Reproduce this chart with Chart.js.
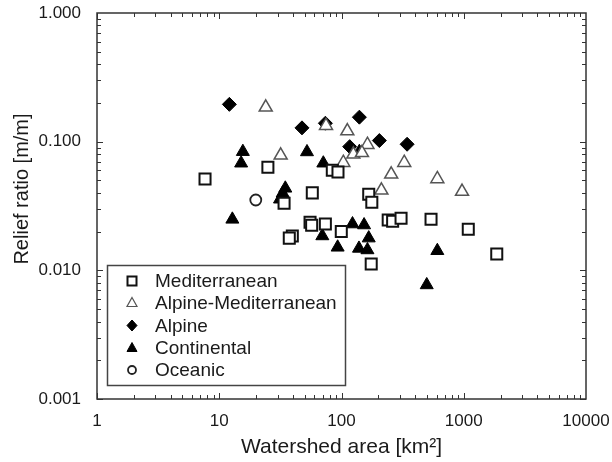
<!DOCTYPE html>
<html>
<head>
<meta charset="utf-8">
<title>Relief ratio vs watershed area</title>
<script src="https://cdn.jsdelivr.net/npm/chart.js@4.4.1/dist/chart.umd.min.js"></script>
<style>
  body { margin: 0; background: #fff; }
  #wrap { width: 612px; height: 462px; }
</style>
</head>
<body>
<div id="wrap"><canvas id="chart" width="612" height="462"></canvas></div>
<script>
// Werte: Fläche in km2, Reliefverhältnis in m/m
const medArea   = [7.65, 25.0, 84.1, 93.6, 57.7, 33.9, 167, 177, 241, 262, 307, 540, 1089, 1862, 55.3, 57, 73.8, 39.6, 37.4, 99.6, 175];
const medRelief = [0.0513, 0.0632, 0.060, 0.058, 0.040, 0.0332, 0.039, 0.0338, 0.0246, 0.0241, 0.0254, 0.0249, 0.0209, 0.0134, 0.0236, 0.0224, 0.0229, 0.0185, 0.0178, 0.020, 0.0112];

const alpMedArea   = [24.0, 74.7, 111.6, 31.8, 103.5, 163, 125, 147, 326, 255, 608, 968, 212];
const alpMedRelief = [0.185, 0.133, 0.121, 0.0784, 0.0687, 0.0948, 0.0798, 0.082, 0.0687, 0.0558, 0.0513, 0.0409, 0.0419];

const alpArea   = [12.1, 47.5, 73.8, 140, 116.7, 204, 344];
const alpRelief = [0.195, 0.128, 0.139, 0.155, 0.0915, 0.102, 0.0955];

const contArea   = [15.6, 15.1, 52.2, 71, 140, 34.7, 33, 31.4, 12.8, 69.7, 93, 123, 153, 167, 139, 163, 608, 498];
const contRelief = [0.0836, 0.068, 0.0832, 0.068, 0.0836, 0.0434, 0.0397, 0.0357, 0.0249, 0.0185, 0.0151, 0.0229, 0.0225, 0.0178, 0.0148, 0.0144, 0.0142, 0.0077];

const oceArea   = [19.9];
const oceRelief = [0.0352];

const seriesNames = ['Mediterranean', 'Alpine-Mediterranean', 'Alpine', 'Continental', 'Oceanic'];
const xTicks = [1, 10, 100, 1000, 10000];
const yTicks = [0.001, 0.01, 0.1, 1];
const yTitle = 'Relief ratio [m/m]';

const FONT = 'Arial, "Liberation Sans", sans-serif';
const INK = '#1a1a1a';

const toPoints = (xs, ys) => xs.map((x, i) => ({ x: x, y: ys[i] }));

// Rahmen und nach innen zeigende Ticks auf allen vier Seiten
const frameTicks = {
    id: 'frameTicks',
    beforeDatasetsDraw(chart) {
        const { ctx, chartArea: a, scales } = chart;
        ctx.save();
        ctx.strokeStyle = '#333';
        ctx.lineWidth = 1;
        const decades = (lo, hi) => {
            const out = [];
            for (let d = lo; d < hi * 0.999; d *= 10) {
                for (let k = 1; k <= 9; k++) out.push({ v: d * k, major: k === 1 });
            }
            return out;
        };
        ctx.beginPath();
        decades(1, 10000).forEach(t => {
            const px = Math.round(scales.x.getPixelForValue(t.v)) + 0.5;
            const len = t.major ? 6 : 4;
            ctx.moveTo(px, a.bottom); ctx.lineTo(px, a.bottom - len);
            ctx.moveTo(px, a.top); ctx.lineTo(px, a.top + len);
        });
        decades(0.001, 1).forEach(t => {
            const py = Math.round(scales.y.getPixelForValue(t.v)) + 0.5;
            const len = t.major ? 6 : 4;
            ctx.moveTo(a.left, py); ctx.lineTo(a.left + len, py);
            ctx.moveTo(a.right, py); ctx.lineTo(a.right - len, py);
        });
        ctx.stroke();
        ctx.lineWidth = 1.5;
        ctx.strokeRect(a.left, a.top, a.right - a.left, a.bottom - a.top);

        // y-Achsentitel sitzt im Original etwas über der Mitte
        ctx.translate(22, 189);
        ctx.rotate(-Math.PI / 2);
        ctx.fillStyle = INK;
        ctx.font = '20px ' + FONT;
        ctx.textAlign = 'center';
        ctx.textBaseline = 'middle';
        ctx.fillText(yTitle, 0, 0);
        ctx.restore();
    }
};

// kleine Legendensymbole
const drawIcon = (ctx, style, x, y, fill, stroke, lw) => {
    ctx.beginPath();
    if (style === 'rect') {
        ctx.rect(x - 4.5, y - 4.5, 9, 9);
    } else if (style === 'triangle') {
        ctx.moveTo(x, y - 5.5); ctx.lineTo(x + 5, y + 3.5); ctx.lineTo(x - 5, y + 3.5); ctx.closePath();
    } else if (style === 'rectRot') {
        ctx.moveTo(x, y - 5.5); ctx.lineTo(x + 5, y); ctx.lineTo(x, y + 5.5); ctx.lineTo(x - 5, y); ctx.closePath();
    } else {
        ctx.arc(x, y, 4, 0, Math.PI * 2);
    }
    ctx.fillStyle = fill;
    ctx.fill();
    ctx.lineWidth = lw;
    ctx.strokeStyle = stroke;
    ctx.stroke();
};

const boxLegend = {
    id: 'boxLegend',
    afterDraw(chart) {
        const ctx = chart.ctx;
        ctx.save();
        ctx.fillStyle = '#fff';
        ctx.fillRect(107.5, 265.5, 238, 120);
        ctx.strokeStyle = '#444';
        ctx.lineWidth = 1.5;
        ctx.strokeRect(107.5, 265.5, 238, 120);
        const rows = [281, 303, 325.5, 348, 370];
        chart.data.datasets.forEach((ds, i) => {
            drawIcon(ctx, ds.pointStyle, 132, rows[i], ds.legendFill, ds.borderColor, ds.legendLine);
            ctx.fillStyle = INK;
            ctx.font = '19px ' + FONT;
            ctx.textBaseline = 'middle';
            ctx.textAlign = 'left';
            ctx.fillText(ds.label, 155, rows[i] + 1);
        });
        ctx.restore();
    }
};

const ctx = document.getElementById('chart').getContext('2d');
new Chart(ctx, {
    type: 'scatter',
    data: {
        datasets: [
            {
                label: seriesNames[0],
                data: toPoints(medArea, medRelief),
                pointStyle: 'rect', pointRadius: 7.8,
                backgroundColor: '#fff', borderColor: '#111', borderWidth: 2,
                legendFill: '#fff', legendLine: 2
            },
            {
                label: seriesNames[1],
                data: toPoints(alpMedArea, alpMedRelief),
                pointStyle: 'triangle', pointRadius: 7.5,
                backgroundColor: '#fff', borderColor: '#555', borderWidth: 1.5,
                legendFill: '#fff', legendLine: 1.2
            },
            {
                label: seriesNames[2],
                data: toPoints(alpArea, alpRelief),
                pointStyle: 'rectRot', pointRadius: 7,
                backgroundColor: '#000', borderColor: '#000', borderWidth: 1,
                legendFill: '#000', legendLine: 1
            },
            {
                label: seriesNames[3],
                data: toPoints(contArea, contRelief),
                pointStyle: 'triangle', pointRadius: 7.5,
                backgroundColor: '#000', borderColor: '#000', borderWidth: 1,
                legendFill: '#000', legendLine: 1
            },
            {
                label: seriesNames[4],
                data: toPoints(oceArea, oceRelief),
                pointStyle: 'circle', pointRadius: 5.5,
                backgroundColor: '#fff', borderColor: '#222', borderWidth: 1.8,
                legendFill: '#fff', legendLine: 1.8
            }
        ]
    },
    options: {
        responsive: false,
        animation: false,
        layout: { padding: { top: 13, right: 26, left: 0, bottom: 0 } },
        plugins: {
            legend: { display: false },
            tooltip: { enabled: false }
        },
        scales: {
            x: {
                type: 'logarithmic',
                min: 1,
                max: 10000,
                afterBuildTicks: s => { s.ticks = xTicks.map(v => ({ value: v })); },
                afterFit: s => {
                    s.height = 63;
                    s.paddingLeft = 0; s.paddingRight = 0;
                },
                grid: { display: false, drawTicks: false },
                border: { display: false },
                ticks: {
                    padding: 12,
                    autoSkip: false,
                    maxRotation: 0,
                    color: INK,
                    font: { family: FONT, size: 17 },
                    callback: v => String(v)
                },
                title: {
                    display: true,
                    text: 'Watershed area [km²]',
                    color: INK,
                    font: { family: FONT, size: 21 },
                    padding: { top: 0, bottom: 2 }
                }
            },
            y: {
                type: 'logarithmic',
                min: 0.001,
                max: 1,
                afterBuildTicks: s => { s.ticks = yTicks.map(v => ({ value: v })); },
                afterFit: s => {
                    s.width = 97;
                    s.paddingTop = 0; s.paddingBottom = 0;
                },
                grid: { display: false, drawTicks: false },
                border: { display: false },
                ticks: {
                    padding: 16,
                    autoSkip: false,
                    color: INK,
                    font: { family: FONT, size: 17 },
                    callback: v => Number(v).toFixed(3)
                },
                title: { display: false }
            }
        }
    },
    plugins: [frameTicks, boxLegend]
});
</script>
</body>
</html>
